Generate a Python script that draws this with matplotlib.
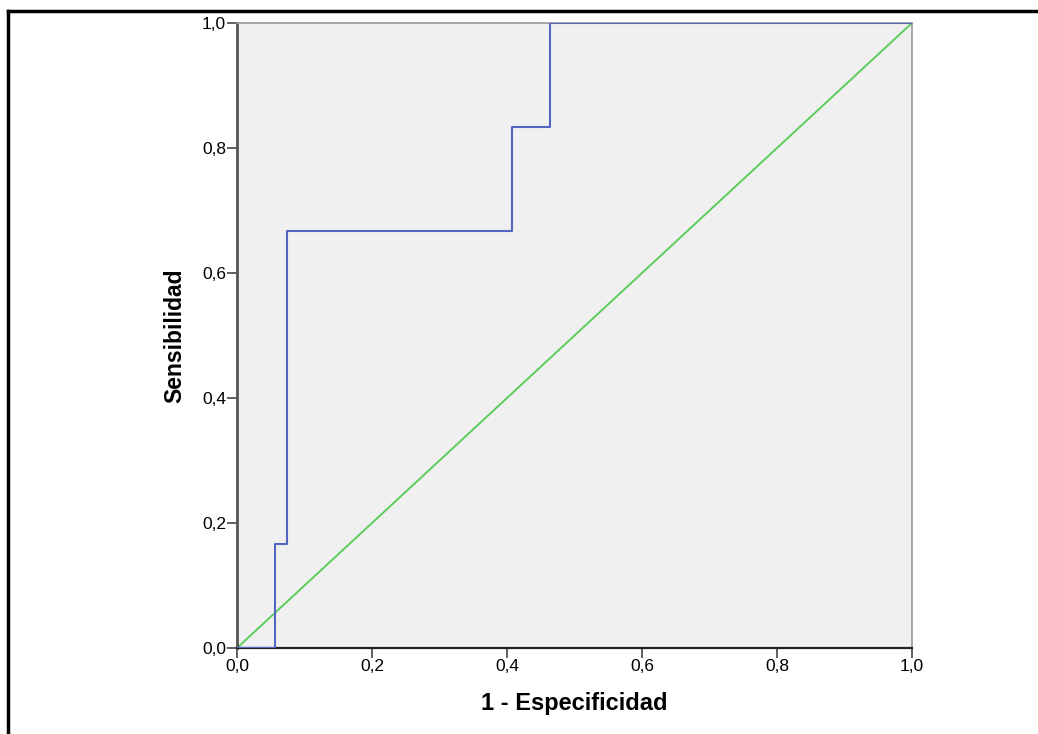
import matplotlib
matplotlib.use("Agg")
import matplotlib.pyplot as plt
from matplotlib.lines import Line2D

# ROC curve points (1 - specificity, sensitivity)
fpr = [0.0, 0.0556, 0.0556, 0.0741, 0.0741, 0.4074, 0.4074, 0.4630, 0.4630, 1.0]
tpr = [0.0, 0.0, 0.1667, 0.1667, 0.6667, 0.6667, 0.8333, 0.8333, 1.0, 1.0]
ref_line = [0.0, 1.0]
ticks = [0.0, 0.2, 0.4, 0.6, 0.8, 1.0]
tick_labels = ["0,0", "0,2", "0,4", "0,6", "0,8", "1,0"]

plt.rcParams['font.family'] = ['Liberation Sans', 'DejaVu Sans']

fig = plt.figure(figsize=(10.38, 7.34), dpi=100)
ax = fig.add_axes([237 / 1038, 1 - 648 / 734, 675 / 1038, 625 / 734])
ax.set_facecolor("#f0f0f0")

ax.plot(ref_line, ref_line, color="#5ccd5c", lw=1.4, zorder=2)
ax.plot(fpr, tpr, color="#5566c2", lw=1.5, zorder=3)

ax.set_xlim(0, 1)
ax.set_ylim(0, 1)
ax.set_xticks(ticks)
ax.set_xticklabels(tick_labels)
ax.set_yticks(ticks)
ax.set_yticklabels(tick_labels)
ax.tick_params(axis="both", direction="out", length=7, width=1.2, color="#444444",
               labelsize=12.5, pad=1)

ax.spines["left"].set_color("#555555")
ax.spines["left"].set_linewidth(2)
ax.spines["bottom"].set_color("#222222")
ax.spines["bottom"].set_linewidth(1.6)
ax.spines["top"].set_color("#999999")
ax.spines["top"].set_linewidth(1.2)
ax.spines["right"].set_color("#999999")
ax.spines["right"].set_linewidth(1.2)

ax.set_xlabel("1 - Especificidad", fontsize=17, fontweight="bold", labelpad=13)
ax.set_ylabel("Sensibilidad", fontsize=16.5, fontweight="bold", labelpad=11)

# outer frame (top and left only)
fig.add_artist(Line2D([8 / 1038, 1.0], [1 - 11 / 734, 1 - 11 / 734], color="black", lw=2.5,
                      transform=fig.transFigure))
fig.add_artist(Line2D([8 / 1038, 8 / 1038], [0.0, 1 - 11 / 734], color="black", lw=2.5,
                      transform=fig.transFigure))

fig.savefig("out.png", dpi=100)
